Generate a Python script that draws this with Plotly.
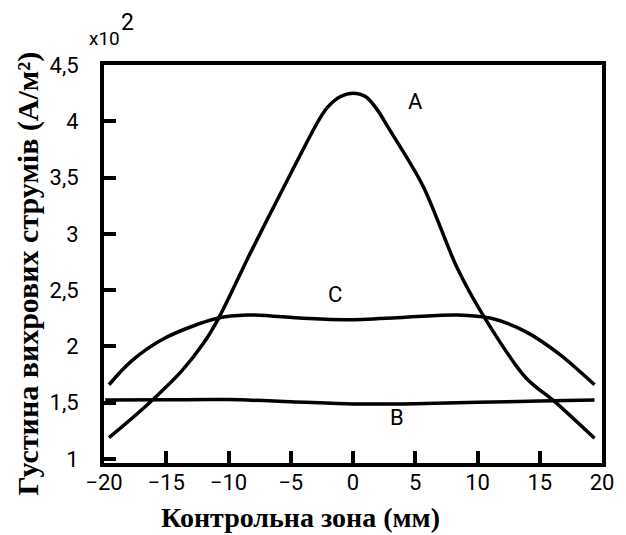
import plotly.graph_objects as go

# ---- data ----
A_x = [-19.6, -16.5, -13.7, -12.0, -10.8, -8.2, -5.4, -2.7, -2.0, -1.0, 0.0, 1.0, 1.9, 2.8, 5.6, 8.4, 10.6, 13.9, 16.2, 19.4]
A_y = [1.19, 1.485, 1.79, 2.03, 2.25, 2.84, 3.45, 4.02, 4.13, 4.22, 4.25, 4.22, 4.11, 3.95, 3.43, 2.69, 2.25, 1.72, 1.51, 1.185]

C_x = [-19.6, -17.8, -15.1, -10.9, -8.5, -4.0, -0.5, 4.2, 8.4, 11.1, 13.9, 16.6, 19.4]
C_y = [1.66, 1.87, 2.075, 2.25, 2.28, 2.25, 2.237, 2.26, 2.28, 2.25, 2.13, 1.93, 1.66]

B_x = [-19.9, -15, -10, -5, 0, 5, 10, 15, 19.4]
B_y = [1.525, 1.527, 1.528, 1.51, 1.49, 1.492, 1.505, 1.515, 1.524]

curve_labels = ["A", "C", "B"]
label_x = [5.05, -1.43, 3.53]
label_y = [4.18, 2.46, 1.367]

x_tickvals = [-20, -15, -10, -5, 0, 5, 10, 15, 20]
x_ticktext = ["\u221220", "\u221215", "\u221210", "\u22125", "0", "5", "10", "15", "20"]
y_tickvals = [1, 1.5, 2, 2.5, 3, 3.5, 4, 4.5]
y_ticktext = ["1", "1,5", "2", "2,5", "3", "3,5", "4", "4,5"]

x_title = "Контрольна зона (мм)"
y_title = "Густина вихрових струмів (А/м²)"

TICK_FONT = "Roboto, Liberation Sans, sans-serif"
TITLE_FONT = "Liberation Serif, Times New Roman, serif"

fig = go.Figure()
line_style = dict(color="black", width=3.5, shape="spline", smoothing=0.9)
for xs, ys in [(A_x, A_y), (C_x, C_y), (B_x, B_y)]:
    fig.add_trace(go.Scatter(x=xs, y=ys, mode="lines", line=line_style,
                             showlegend=False, hoverinfo="skip"))

for t, lx, ly in zip(curve_labels, label_x, label_y):
    fig.add_annotation(x=lx, y=ly, xref="x", yref="y", text=t, showarrow=False,
                       font=dict(family=TICK_FONT, size=22, color="black"))

# axis titles as annotations (positioned like the reference)
fig.add_annotation(x=0.394, y=-0.138, xref="paper", yref="paper", text=x_title,
                   showarrow=False, xanchor="center", yanchor="middle",
                   font=dict(family=TITLE_FONT, size=28, color="black", weight="bold"))
fig.add_annotation(x=-0.152, y=0.477, xref="paper", yref="paper", text=y_title,
                   showarrow=False, xanchor="center", yanchor="middle", textangle=-90,
                   font=dict(family=TITLE_FONT, size=30, color="black", weight="bold"))

# x10^2 multiplier
fig.add_annotation(x=0.0, y=1.066, xref="paper", yref="paper", text="x10",
                   showarrow=False, xanchor="center", yanchor="middle",
                   font=dict(family=TICK_FONT, size=19, color="black"))
fig.add_annotation(x=0.047, y=1.108, xref="paper", yref="paper", text="2",
                   showarrow=False, xanchor="center", yanchor="middle",
                   font=dict(family=TICK_FONT, size=23, color="black"))

axis_common = dict(showline=True, linecolor="black", linewidth=4, mirror=True,
                   ticks="inside", ticklen=12, tickwidth=3.5, tickcolor="black",
                   showgrid=False, zeroline=False,
                   tickfont=dict(family=TICK_FONT, size=22, color="black"))

fig.update_xaxes(range=[-20, 20], tickmode="array", tickvals=x_tickvals,
                 ticktext=x_ticktext, ticklabelstandoff=-3, **axis_common)
fig.update_yaxes(range=[0.965, 4.5], tickmode="array", tickvals=y_tickvals,
                 ticktext=y_ticktext, ticklabelstandoff=17, **axis_common)

# the page body adds an 8px offset, so the figure is 8px smaller than the window
fig.update_layout(width=618, height=527,
                  margin=dict(l=96, r=15, t=57, b=72),
                  paper_bgcolor="white", plot_bgcolor="white")

fig.write_html("out.html")
